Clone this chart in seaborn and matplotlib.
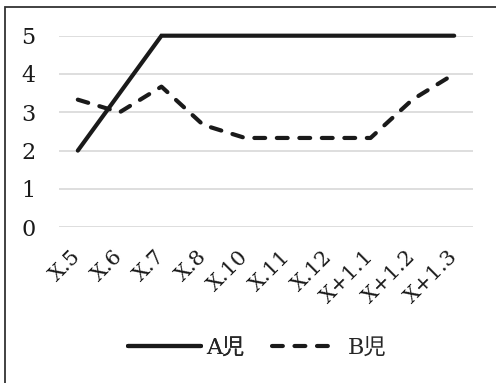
import matplotlib
matplotlib.use("Agg")
import matplotlib.pyplot as plt
from matplotlib.patches import Rectangle
from matplotlib.lines import Line2D
import pandas as pd
import seaborn as sns

# Survey points and scores for the two children
periods = ["X.5", "X.6", "X.7", "X.8", "X.10", "X.11", "X.12", "X+1.1", "X+1.2", "X+1.3"]
child_a = [2.0, 3.5, 5.0, 5.0, 5.0, 5.0, 5.0, 5.0, 5.0, 5.0]
child_b = [3.33, 3.0, 3.67, 2.67, 2.33, 2.33, 2.33, 2.33, 3.33, 4.0]
series_names = ["A児", "B児"]
y_ticks = [0, 1, 2, 3, 4, 5]

sns.set_theme(style="white")
plt.rcParams["font.family"] = ["DejaVu Serif", "Noto Sans CJK JP"]

df = pd.DataFrame({"period": periods, series_names[0]: child_a, series_names[1]: child_b})
df["pos"] = range(len(periods))

fig = plt.figure(figsize=(4.96, 3.83), dpi=100)
fig.patch.set_facecolor("white")
ax = fig.add_axes([59 / 496, 1 - 227.2 / 383, (473 - 59) / 496, (227.2 - 35.7) / 383])

ink = "#1a1a1a"
lw = 3.0
dash = (0, (2.6, 2.8))
sns.lineplot(data=df, x="pos", y=series_names[0], ax=ax, color=ink, lw=lw,
             solid_capstyle="round", solid_joinstyle="miter", clip_on=False)
sns.lineplot(data=df, x="pos", y=series_names[1], ax=ax, color=ink, lw=lw,
             linestyle=dash, dash_capstyle="round", clip_on=False)

ax.set_xlim(-0.45, len(periods) - 0.55)
ax.set_ylim(0, 5)
ax.set_yticks(y_ticks)
ax.set_yticklabels([str(t) for t in y_ticks], fontsize=16, color=ink)
ax.set_xticks(range(len(periods)))
ax.set_xticklabels(periods, fontsize=15, rotation=45, ha="right", va="center",
                   rotation_mode="anchor", color=ink)
ax.tick_params(axis="x", length=0, pad=19)
ax.tick_params(axis="y", length=0, pad=17)
ax.set_xlabel("")
ax.set_ylabel("")
ax.grid(axis="y", color="#d4d4d4", lw=1.1)
ax.grid(axis="x", visible=False)
for s in ax.spines.values():
    s.set_visible(False)
ax.set_axisbelow(True)

# legend: one entry per call so each key can have its own length
leg_y = 1 - 348 / 383
leg_a = fig.legend([Line2D([], [], color=ink, lw=lw, solid_capstyle="round")],
                   [series_names[0]], loc="center left",
                   bbox_to_anchor=(128 / 496, leg_y), frameon=False, fontsize=16,
                   handlelength=3.3, handletextpad=0.22, borderpad=0, borderaxespad=0)
fig.add_artist(leg_a)
fig.legend([Line2D([], [], color=ink, lw=lw, linestyle=dash, dash_capstyle="round")],
           [series_names[1]], loc="center left",
           bbox_to_anchor=(272 / 496, leg_y), frameon=False, fontsize=16,
           handlelength=2.7, handletextpad=0.72, borderpad=0, borderaxespad=0)

# outer frame
fig.add_artist(Rectangle((5 / 496, -0.1), 1.2, 1 - 6.5 / 383 + 0.1, transform=fig.transFigure,
                         fill=False, edgecolor="#333333", lw=1.3))

fig.savefig("out.png", dpi=100, facecolor="white")
